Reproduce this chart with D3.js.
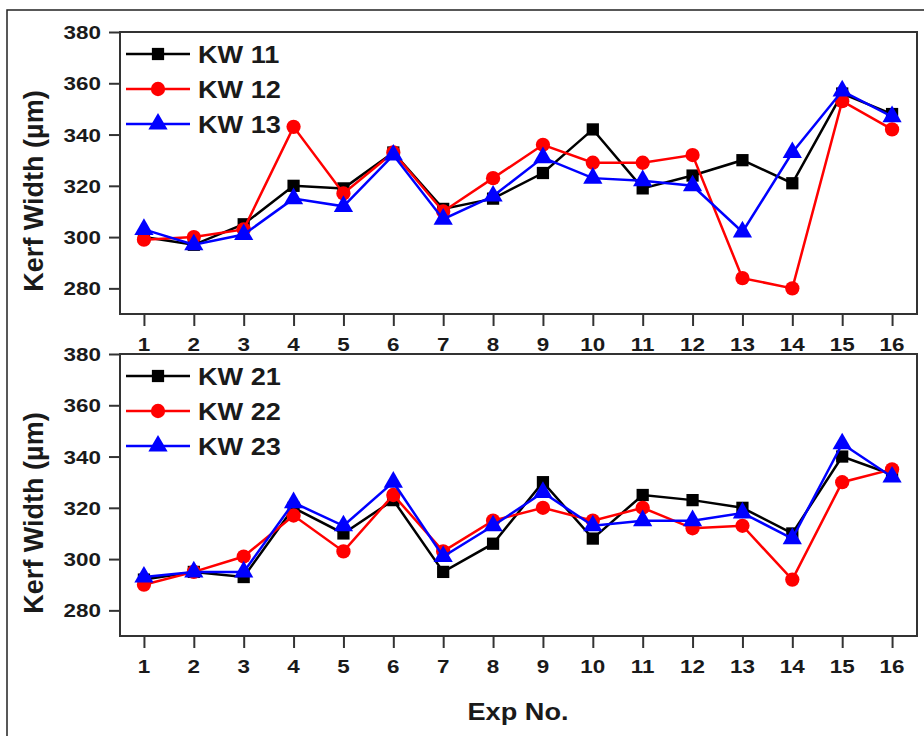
<!DOCTYPE html>
<html>
<head>
<meta charset="utf-8">
<script src="https://cdn.jsdelivr.net/npm/d3@7"></script>
<style>
  html, body { margin: 0; padding: 0; background: #fff; }
  svg text { font-family: "Liberation Sans", Arial, sans-serif; font-weight: bold; fill: #1a1a1a; }
</style>
</head>
<body>
<svg id="chart" width="924" height="736"></svg>
<script>
// Experiment numbers on the x axis
const expNo = d3.range(1, 17);
const yTicks = [280, 300, 320, 340, 360, 380];

// Kerf width (µm), first group
const kw11 = [300, 297, 305, 320, 319, 333, 311, 315, 325, 342, 319, 324, 330, 321, 356, 348];
const kw12 = [299, 300, 303, 343, 317, 333, 310, 323, 336, 329, 329, 332, 284, 280, 353, 342];
const kw13 = [303, 297, 301, 315, 312, 332, 307, 316, 331, 323, 322, 320, 302, 333, 357, 347];

// Kerf width (µm), second group
const kw21 = [292, 295, 293, 320, 310, 323, 295, 306, 330, 308, 325, 323, 320, 310, 340, 333];
const kw22 = [290, 295, 301, 317, 303, 325, 303, 315, 320, 315, 320, 312, 313, 292, 330, 335];
const kw23 = [293, 295, 295, 322, 313, 330, 301, 313, 326, 313, 315, 315, 318, 308, 345, 332];

const panels = [
  { top: 32, series: [
      { name: "KW 11", values: kw11, color: "#000000", symbol: "square" },
      { name: "KW 12", values: kw12, color: "#ff0000", symbol: "circle" },
      { name: "KW 13", values: kw13, color: "#0000ff", symbol: "triangle" } ] },
  { top: 354, series: [
      { name: "KW 21", values: kw21, color: "#000000", symbol: "square" },
      { name: "KW 22", values: kw22, color: "#ff0000", symbol: "circle" },
      { name: "KW 23", values: kw23, color: "#0000ff", symbol: "triangle" } ] }
];

const svg = d3.select("#chart");
const left = 120, right = 917, plotH = 282;
const SX = 1.18; // horizontal text stretch

// outer frame
svg.append("rect").attr("x", 7).attr("y", 10).attr("width", 930).attr("height", 740)
  .attr("fill", "none").attr("stroke", "#222").attr("stroke-width", 1.5);

const x = d3.scaleLinear().domain([0.52, 16.5]).range([left, right]);

function stretchedText(g, px, py, txt, size, anchor) {
  return g.append("text")
    .attr("transform", `translate(${px},${py}) scale(${SX},1)`)
    .attr("text-anchor", anchor || "start")
    .style("font-size", size + "px")
    .text(txt);
}

const symbolPath = {
  square: d3.symbol().type(d3.symbolSquare).size(150)(),
  circle: d3.symbol().type(d3.symbolCircle).size(160)(),
  triangle: d3.symbol().type(d3.symbolTriangle).size(160)()
};

panels.forEach(p => {
  const g = svg.append("g");
  const y = d3.scaleLinear().domain([270, 380]).range([p.top + plotH, p.top]);

  // frame
  g.append("rect").attr("x", left).attr("y", p.top).attr("width", right - left).attr("height", plotH)
    .attr("fill", "none").attr("stroke", "#333").attr("stroke-width", 2);

  // y axis ticks and labels
  const yAxis = d3.axisLeft(y).tickValues(yTicks).tickSize(11).tickFormat("");
  const ya = g.append("g").attr("transform", `translate(${left},0)`).call(yAxis);
  ya.select(".domain").remove();
  ya.selectAll("line").attr("stroke", "#333").attr("stroke-width", 2);
  yTicks.forEach(t => stretchedText(g, 101, y(t) + 7, t, 19, "end"));

  // x axis ticks and labels
  const xAxis = d3.axisBottom(x).tickValues(expNo).tickSize(12).tickFormat("");
  const xa = g.append("g").attr("transform", `translate(0,${p.top + plotH})`).call(xAxis);
  xa.select(".domain").remove();
  xa.selectAll("line").attr("stroke", "#333").attr("stroke-width", 2);
  expNo.forEach(n => stretchedText(g, x(n), p.top + plotH + 37, n, 19, "middle"));

  // y axis title
  g.append("text")
    .attr("transform", `translate(43,${p.top + 159}) rotate(-90)`)
    .attr("text-anchor", "middle")
    .style("font-size", "27px")
    .text("Kerf Width (µm)");

  // series lines and markers
  const line = d3.line().x((d, i) => x(expNo[i])).y(d => y(d));
  p.series.forEach(s => {
    g.append("path").datum(s.values).attr("d", line)
      .attr("fill", "none").attr("stroke", s.color).attr("stroke-width", 2.5);
    g.selectAll(null).data(s.values).enter().append("path")
      .attr("d", symbolPath[s.symbol])
      .attr("transform", (d, i) => `translate(${x(expNo[i])},${y(d)})`)
      .attr("fill", s.color);
  });

  // legend
  p.series.forEach((s, i) => {
    const ly = p.top + 22 + i * 35;
    g.append("line").attr("x1", 126).attr("x2", 190).attr("y1", ly).attr("y2", ly)
      .attr("stroke", s.color).attr("stroke-width", 2.5);
    g.append("path").attr("d", symbolPath[s.symbol])
      .attr("transform", `translate(158,${ly})`).attr("fill", s.color);
    stretchedText(g, 198, ly + 8.5, s.name, 23, "start");
  });
});

// x axis title
stretchedText(svg, 518, 720, "Exp No.", 23, "middle");
</script>
</body>
</html>
